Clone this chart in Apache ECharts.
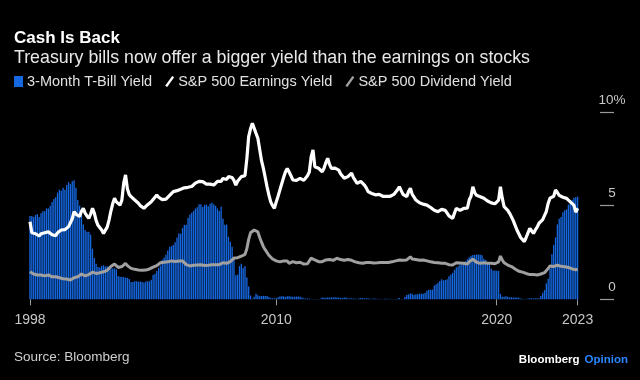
<!DOCTYPE html>
<html>
<head>
<meta charset="utf-8">
<script src="https://cdn.jsdelivr.net/npm/echarts@6/dist/echarts.min.js"></script>
<style>
html,body{margin:0;padding:0;background:#000;}
#c{width:640px;height:380px;}
</style>
</head>
<body>
<div id="c"></div>
<script>
// Monthly data, Nov 1998 .. Sep 2023
var startYear = 1998, startMonth = 11;
var xTickLabels = ['1998', '2010', '2020', '2023'];
var yTickLabels = ['0', '5', '10%'];

var tbill = [
  4.45, 4.45,
  4.40, 4.50, 4.55, 4.40, 4.60, 4.70, 4.70, 4.85, 4.85, 5.00, 5.20, 5.35,
  5.45, 5.70, 5.85, 5.80, 5.95, 5.85, 6.10, 6.25, 6.15, 6.30, 6.35, 5.95,
  5.30, 5.00, 4.55, 4.00, 3.70, 3.60, 3.60, 3.45, 2.70, 2.20, 1.90, 1.72,
  1.70, 1.78, 1.82, 1.75, 1.76, 1.73, 1.70, 1.65, 1.66, 1.60, 1.25, 1.21,
  1.19, 1.19, 1.15, 1.15, 1.09, 0.93, 0.92, 0.97, 0.96, 0.94, 0.95, 0.92,
  0.90, 0.95, 0.96, 0.96, 1.05, 1.30, 1.36, 1.51, 1.68, 1.80, 2.11, 2.23,
  2.38, 2.60, 2.80, 2.84, 2.90, 3.04, 3.30, 3.52, 3.50, 3.80, 3.97, 3.98,
  4.34, 4.53, 4.62, 4.71, 4.84, 4.91, 5.07, 5.08, 4.93, 5.04, 5.06, 4.97,
  5.10, 5.15, 5.06, 4.99, 4.85, 4.72, 4.94, 4.30, 3.98, 3.99, 3.34, 3.07,
  2.81, 2.17, 1.29, 1.32, 1.77, 1.90, 1.67, 1.76, 1.16, 0.69, 0.20, 0.03,
  0.13, 0.30, 0.21, 0.16, 0.18, 0.18, 0.18, 0.17, 0.12, 0.07, 0.05, 0.05,
  0.06, 0.11, 0.15, 0.16, 0.16, 0.12, 0.16, 0.16, 0.15, 0.13, 0.14, 0.14,
  0.15, 0.13, 0.10, 0.06, 0.04, 0.04, 0.04, 0.02, 0.01, 0.02, 0.01, 0.01,
  0.03, 0.09, 0.08, 0.08, 0.09, 0.09, 0.10, 0.10, 0.11, 0.10, 0.09, 0.07,
  0.07, 0.10, 0.09, 0.06, 0.04, 0.05, 0.04, 0.04, 0.02, 0.05, 0.07, 0.07,
  0.04, 0.05, 0.05, 0.03, 0.03, 0.04, 0.03, 0.03, 0.02, 0.02, 0.02, 0.03,
  0.03, 0.02, 0.03, 0.02, 0.02, 0.02, 0.03, 0.07, 0.02, 0.02, 0.12, 0.23,
  0.26, 0.31, 0.29, 0.23, 0.27, 0.27, 0.30, 0.30, 0.29, 0.33, 0.45, 0.51,
  0.51, 0.52, 0.74, 0.80, 0.89, 0.98, 1.07, 1.01, 1.03, 1.07, 1.23, 1.32,
  1.41, 1.57, 1.70, 1.76, 1.86, 1.90, 1.96, 2.03, 2.13, 2.25, 2.33, 2.37,
  2.37, 2.39, 2.40, 2.38, 2.35, 2.17, 2.10, 1.95, 1.89, 1.65, 1.54, 1.54,
  1.52, 1.52, 0.29, 0.14, 0.13, 0.16, 0.13, 0.10, 0.11, 0.10, 0.09, 0.09,
  0.08, 0.04, 0.03, 0.02, 0.02, 0.04, 0.05, 0.05, 0.04, 0.05, 0.05, 0.06,
  0.18, 0.35, 0.50, 0.85, 1.10, 1.65, 2.40, 2.90, 3.30, 4.00, 4.30, 4.40,
  4.65, 4.75, 4.80, 5.05, 5.25, 5.30, 5.42, 5.45, 5.48
];

var earnings = [
  4.14, 3.55,
  3.45, 3.50, 3.42, 3.38, 3.50, 3.45, 3.55, 3.65, 3.60, 3.62, 3.45, 3.35,
  3.40, 3.55, 3.60, 3.70, 3.75, 3.72, 3.80, 3.88, 3.92, 4.30, 4.68, 4.55,
  4.45, 4.42, 4.70, 4.86, 4.60, 4.45, 4.32, 4.55, 4.86, 4.60, 4.20, 3.95,
  3.88, 3.70, 3.52, 3.55, 3.85, 4.23, 4.70, 5.10, 5.39, 5.20, 5.10, 5.03,
  5.30, 6.20, 6.64, 5.90, 5.60, 5.48, 5.40, 5.30, 5.25, 5.13, 5.00, 4.92,
  4.86, 4.90, 5.05, 5.10, 5.21, 5.30, 5.45, 5.57, 5.45, 5.40, 5.32, 5.30,
  5.35, 5.45, 5.55, 5.65, 5.75, 5.70, 5.80, 5.85, 5.88, 5.93, 5.95, 6.00,
  5.98, 6.05, 6.02, 6.10, 6.20, 6.25, 6.30, 6.22, 6.28, 6.20, 6.15, 6.12,
  6.15, 6.20, 6.10, 6.20, 6.30, 6.37, 6.30, 6.45, 6.50, 6.40, 6.55, 6.64,
  6.50, 6.35, 6.10, 6.30, 6.40, 6.55, 6.45, 6.60, 7.50, 8.68, 9.10, 9.40,
  9.30, 8.86, 8.60, 8.00, 7.40, 6.99, 6.50, 6.00, 5.57, 5.20, 5.00, 4.86,
  5.20, 5.50, 5.84, 5.90, 6.50, 6.80, 6.99, 6.80, 6.60, 6.37, 6.40, 6.35,
  6.40, 6.46, 6.40, 6.35, 6.37, 6.60, 6.80, 7.60, 7.97, 7.08, 7.10, 7.00,
  6.90, 6.81, 7.00, 7.30, 7.53, 7.20, 6.99, 7.05, 7.00, 7.08, 6.90, 6.70,
  6.60, 6.46, 6.50, 6.55, 6.60, 6.73, 6.50, 6.35, 6.19, 6.25, 6.30, 6.28,
  6.10, 5.95, 5.75, 5.70, 5.65, 5.60, 5.58, 5.57, 5.60, 5.55, 5.50, 5.52,
  5.50, 5.48, 5.50, 5.55, 5.60, 5.70, 5.85, 6.01, 5.80, 5.60, 5.55, 5.48,
  5.75, 5.93, 5.60, 5.45, 5.30, 5.25, 5.15, 5.10, 5.08, 5.05, 5.03, 4.95,
  4.90, 4.80, 4.75, 4.70, 4.68, 4.72, 4.80, 4.86, 4.75, 4.60, 4.45, 4.38,
  4.32, 4.60, 4.86, 4.80, 4.75, 4.80, 4.85, 4.80, 4.86, 5.30, 5.50, 6.01,
  5.70, 5.55, 5.50, 5.48, 5.45, 5.40, 5.30, 5.25, 5.20, 5.15, 5.13, 5.10,
  5.13, 5.30, 6.01, 5.40, 4.95, 4.85, 4.75, 4.59, 4.40, 4.20, 3.95, 3.70,
  3.50, 3.30, 3.20, 3.08, 3.30, 3.55, 3.79, 3.65, 3.52, 3.70, 3.85, 4.06,
  4.15, 4.25, 4.32, 4.70, 5.13, 5.40, 5.35, 5.50, 5.84, 5.70, 5.55, 5.48,
  5.45, 5.42, 5.39, 5.30, 5.20, 5.10, 5.03, 4.65, 4.86
];

var dividend = [
  1.47, 1.40,
  1.35, 1.32, 1.30, 1.28, 1.30, 1.27, 1.25, 1.28, 1.30, 1.25, 1.20, 1.17,
  1.20, 1.25, 1.15, 1.12, 1.10, 1.10, 1.08, 1.05, 1.03, 1.08, 1.15, 1.18,
  1.20, 1.28, 1.35, 1.30, 1.25, 1.28, 1.32, 1.38, 1.45, 1.42, 1.38, 1.40,
  1.42, 1.45, 1.47, 1.50, 1.55, 1.62, 1.75, 1.78, 1.88, 1.80, 1.70, 1.65,
  1.75, 1.85, 1.92, 1.80, 1.70, 1.65, 1.62, 1.60, 1.58, 1.57, 1.56, 1.55,
  1.55, 1.56, 1.58, 1.62, 1.68, 1.72, 1.74, 1.80, 1.90, 1.95, 2.01, 1.98,
  1.98, 2.00, 2.02, 2.05, 2.00, 2.02, 2.06, 2.04, 2.02, 2.05, 1.95, 1.85,
  1.80, 1.78, 1.80, 1.82, 1.85, 1.83, 1.82, 1.84, 1.82, 1.80, 1.83, 1.82,
  1.83, 1.85, 1.82, 1.84, 1.82, 1.85, 1.88, 1.95, 1.90, 1.92, 1.98, 2.01,
  2.10, 2.20, 2.27, 2.22, 2.20, 2.30, 2.37, 2.40, 2.70, 3.20, 3.55, 3.60,
  3.70, 3.79, 3.60, 3.30, 3.05, 2.81, 2.65, 2.50, 2.35, 2.25, 2.15, 2.10,
  2.05, 2.10, 2.00, 1.95, 2.05, 2.15, 2.05, 1.92, 2.00, 2.01, 1.98, 1.95,
  2.01, 1.98, 1.92, 1.88, 1.83, 1.90, 2.00, 2.20, 2.27, 2.10, 2.05, 2.01,
  2.05, 2.01, 2.05, 2.10, 2.15, 2.12, 2.10, 2.08, 2.12, 2.19, 2.15, 2.12,
  2.10, 2.08, 2.10, 2.12, 2.10, 2.08, 2.05, 2.00, 1.98, 1.95, 1.92, 1.92,
  1.94, 1.96, 1.95, 1.96, 1.95, 1.94, 1.96, 1.95, 1.96, 1.97, 1.95, 1.96,
  1.98, 1.97, 1.98, 2.00, 2.02, 2.05, 2.08, 2.10, 2.12, 2.08, 2.05, 2.10,
  2.20, 2.27, 2.15, 2.10, 2.12, 2.10, 2.08, 2.10, 2.10, 2.08, 2.05, 2.02,
  2.00, 1.98, 1.97, 1.96, 1.95, 1.94, 1.92, 1.94, 1.92, 1.88, 1.85, 1.83,
  1.83, 1.90, 1.95, 1.96, 1.94, 1.95, 1.92, 1.90, 1.88, 2.00, 2.05, 2.14,
  2.05, 1.98, 1.95, 1.92, 1.94, 1.95, 1.92, 1.93, 1.92, 1.92, 1.90, 1.90,
  1.92, 2.00, 2.31, 2.10, 1.95, 1.88, 1.83, 1.78, 1.75, 1.70, 1.62, 1.55,
  1.50, 1.47, 1.45, 1.42, 1.38, 1.36, 1.32, 1.30, 1.32, 1.31, 1.30, 1.32,
  1.35, 1.39, 1.42, 1.50, 1.65, 1.78, 1.80, 1.75, 1.83, 1.82, 1.78, 1.76,
  1.75, 1.74, 1.74, 1.70, 1.68, 1.62, 1.56, 1.58, 1.60
];

var months = [];
(function () {
  var y = startYear, m = startMonth;
  for (var i = 0; i < tbill.length; i++) {
    months.push(y + '-' + (m < 10 ? '0' + m : m));
    m++; if (m > 12) { m = 1; y++; }
  }
})();

var tickMonths = [months[0], '2010-01', '2020-01', months[months.length - 1]];
function isTick(idx, val) { return tickMonths.indexOf(val) >= 0; }

var FONT = '"Liberation Sans", Arial, Helvetica, sans-serif';
var chart = echarts.init(document.getElementById('c'), null, { renderer: 'canvas' });

chart.setOption({
  backgroundColor: '#000',
  animation: false,
  textStyle: { fontFamily: FONT },
  title: [
    { text: 'Cash Is Back', left: 14, top: 30, padding: 0,
      textStyle: { color: '#fff', fontSize: 17, fontWeight: 'bold', fontFamily: FONT } },
    { text: 'Treasury bills now offer a bigger yield than the earnings on stocks', left: 14, top: 49, padding: 0,
      textStyle: { color: '#e8e8e8', fontSize: 17.8, fontWeight: 'normal', fontFamily: FONT } },
    { text: 'Source: Bloomberg', left: 14, top: 350, padding: 0,
      textStyle: { color: '#cfcfcf', fontSize: 13.5, fontWeight: 'normal', fontFamily: FONT } },
    { text: '{a|Bloomberg} {b|Opinion}', right: 12, top: 351, padding: 0,
      textStyle: { fontFamily: FONT,
        rich: {
          a: { color: '#fff', fontSize: 11.5, fontWeight: 'bold', fontFamily: FONT },
          b: { color: '#2a86ff', fontSize: 11.5, fontWeight: 'bold', fontFamily: FONT }
        } } }
  ],
  legend: {
    left: 14, top: 74, padding: 0,
    itemWidth: 9, itemHeight: 11, itemGap: 13,
    textStyle: { color: '#e0e0e0', fontSize: 14.5, fontFamily: FONT, padding: [0, 0, 0, -1] },
    data: [
      { name: '3-Month T-Bill Yield', icon: 'rect' },
      { name: 'S&P 500 Earnings Yield', icon: 'path://M7,0 L9,1.2 L2,11 L0,9.8 Z' },
      { name: 'S&P 500 Dividend Yield', icon: 'path://M7,0 L9,1.2 L2,11 L0,9.8 Z' }
    ]
  },
  grid: { left: 29.08, right: 61.48, top: 112, bottom: 80.7, containLabel: false },
  xAxis: {
    type: 'category',
    data: months,
    boundaryGap: true,
    axisLine: { show: false },
    axisTick: { show: true, alignWithLabel: true, interval: isTick, length: 6,
      lineStyle: { color: '#9a9a9a', width: 1 } },
    axisLabel: { interval: isTick, color: '#c8c8c8', fontSize: 14, margin: 13.5, fontFamily: FONT,
      formatter: function (v) {
        var i = tickMonths.indexOf(v);
        return i >= 0 ? xTickLabels[i] : '';
      } },
    splitLine: { show: false }
  },
  yAxis: {
    type: 'value', min: 0, max: 10, interval: 5,
    position: 'right', offset: 21.5,
    axisLine: { show: false },
    axisTick: { show: true, inside: false, length: 14, lineStyle: { color: '#9a9a9a', width: 1.2 } },
    axisLabel: { color: '#c8c8c8', fontSize: 13.5, align: 'center', verticalAlign: 'bottom',
      margin: 12, padding: [0, 0, 5, 0], fontFamily: FONT,
      formatter: function (v) { return yTickLabels[v / 5]; } },
    splitLine: { show: false }
  },
  series: [
    { name: '3-Month T-Bill Yield', type: 'bar', data: tbill,
      barWidth: '72%', itemStyle: { color: '#1668e0' }, z: 1 },
    { name: 'S&P 500 Dividend Yield', type: 'line', data: dividend, showSymbol: false, symbol: 'none',
      lineStyle: { color: '#a0a0a0', width: 3 }, itemStyle: { color: '#a0a0a0' }, z: 3 },
    { name: 'S&P 500 Earnings Yield', type: 'line', data: earnings, showSymbol: false, symbol: 'none',
      lineStyle: { color: '#ffffff', width: 3.2 }, itemStyle: { color: '#ffffff' }, z: 4 }
  ]
});
</script>
</body>
</html>
